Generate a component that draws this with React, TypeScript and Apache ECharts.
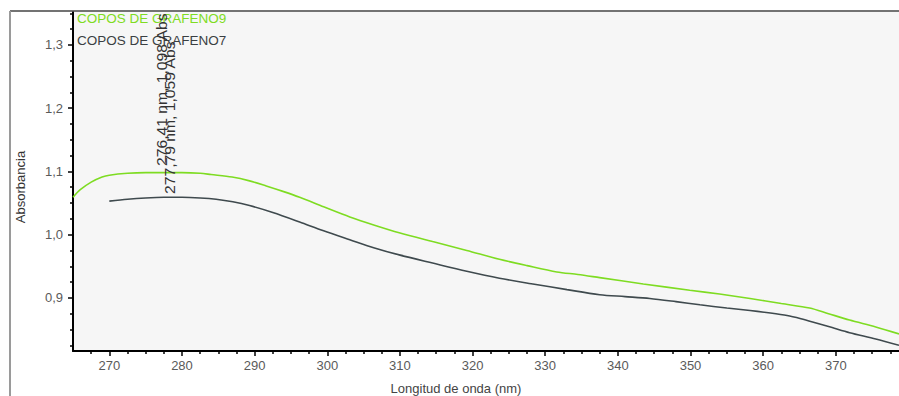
import React, { useEffect, useRef } from "react";
import * as echarts from "echarts";

const seriesNames = ["COPOS DE GRAFENO9", "COPOS DE GRAFENO7"];
const seriesColors = ["#7edc22", "#3f4a4e"];

const greenNm = [265, 266, 267.5, 269, 270, 272.5, 275, 277.5, 280, 282.5, 284, 286.9, 289.3, 291.6, 294, 296.2, 299.5, 303.1, 306.5, 309.9, 314.5, 319.2, 323.7, 327.5, 331.6, 334.5, 337.5, 343.5, 349.9, 354, 358.2, 362.5, 366.4, 369, 371.9, 375.5, 378.7];
const greenAbs = [1.059, 1.071, 1.083, 1.091, 1.094, 1.097, 1.098, 1.098, 1.098, 1.097, 1.095, 1.091, 1.085, 1.077, 1.068, 1.059, 1.044, 1.028, 1.015, 1.003, 0.989, 0.975, 0.961, 0.951, 0.941, 0.937, 0.932, 0.922, 0.912, 0.906, 0.899, 0.891, 0.884, 0.875, 0.865, 0.854, 0.843];

const darkNm = [270, 272.5, 275, 277.5, 280, 282.5, 284.7, 287, 289.3, 292.5, 296.2, 299.5, 303.1, 306.5, 309.9, 314.5, 319.2, 323.7, 328.3, 333, 337.5, 341, 344.4, 348, 351.3, 355, 358.2, 361, 363.3, 365.2, 366.8, 369.5, 371.9, 375.5, 378.7];
const darkAbs = [1.053, 1.056, 1.058, 1.059, 1.059, 1.058, 1.056, 1.052, 1.046, 1.035, 1.02, 1.006, 0.992, 0.979, 0.968, 0.955, 0.942, 0.931, 0.922, 0.913, 0.905, 0.902, 0.899, 0.894, 0.889, 0.884, 0.88, 0.876, 0.872, 0.867, 0.862, 0.853, 0.845, 0.835, 0.825];

const xMajor = [270, 280, 290, 300, 310, 320, 330, 340, 350, 360, 370];
const xMinor = [267.5, 272.5, 275, 277.5, 282.5, 285, 287.5, 292.5, 295, 297.5, 302.5, 305, 307.5, 312.5, 315, 317.5, 322.5, 325, 327.5, 332.5, 335, 337.5, 342.5, 345, 347.5, 352.5, 355, 357.5, 362.5, 365, 367.5, 372.5, 375, 377.5];
const yMajor = [0.9, 1.0, 1.1, 1.2, 1.3];
const yMinor = [0.825, 0.85, 0.875, 0.925, 0.95, 0.975, 1.025, 1.05, 1.075, 1.125, 1.15, 1.175, 1.225, 1.25, 1.275, 1.325, 1.35];

const peakLabels = ["276,41 nm, 1,098 Abs", "277,79 nm, 1,059 Abs"];

const X_MIN = 265;
const X_MAX = 378.7;
const Y_MIN = 0.816;
const Y_MAX = 1.352;

const FONT = "Liberation Sans, Arial, sans-serif";

export default function App() {
  const ref = useRef<HTMLDivElement>(null);

  useEffect(() => {
    if (!ref.current) return;
    const chart = echarts.init(ref.current, undefined, { renderer: "svg" });
    const pairs = (xs: number[], ys: number[]) => xs.map((x, i) => [x, ys[i]]);
    const fmt = (v: number) => v.toFixed(1).replace(".", ",");

    chart.setOption({
      animation: false,
      backgroundColor: "#ffffff",
      grid: {
        left: 73,
        top: 12,
        right: 0,
        bottom: 45,
        show: true,
        backgroundColor: "#f6f6f6",
        borderWidth: 0,
      },
      xAxis: [
        {
          type: "value",
          min: X_MIN,
          max: X_MAX,
          position: "bottom",
          axisLine: { show: true, onZero: false, lineStyle: { color: "#000", width: 2 } },
          axisTick: { show: true, customValues: xMajor, length: 5, lineStyle: { color: "#000", width: 1.5 } },
          axisLabel: { customValues: xMajor, color: "#5a5a5a", fontSize: 13, margin: 8, fontFamily: FONT },
          splitLine: { show: false },
        },
        {
          type: "value",
          min: X_MIN,
          max: X_MAX,
          position: "bottom",
          axisLine: { show: false },
          axisTick: { show: true, customValues: xMinor, length: 3, lineStyle: { color: "#000", width: 1.5 } },
          axisLabel: { show: false },
          splitLine: { show: false },
        },
      ],
      yAxis: [
        {
          type: "value",
          min: Y_MIN,
          max: Y_MAX,
          position: "left",
          axisLine: { show: true, onZero: false, lineStyle: { color: "#000", width: 2 } },
          axisTick: { show: true, customValues: yMajor, length: 5, lineStyle: { color: "#000", width: 1.5 } },
          axisLabel: {
            customValues: yMajor,
            color: "#5a5a5a",
            fontSize: 13,
            margin: 10,
            fontFamily: FONT,
            formatter: (v: number) => fmt(v),
          },
          splitLine: { show: false },
        },
        {
          type: "value",
          min: Y_MIN,
          max: Y_MAX,
          position: "left",
          axisLine: { show: false },
          axisTick: { show: true, customValues: yMinor, length: 3, lineStyle: { color: "#000", width: 1.5 } },
          axisLabel: { show: false },
          splitLine: { show: false },
        },
      ],
      series: [
        {
          name: seriesNames[0],
          type: "line",
          data: pairs(greenNm, greenAbs),
          showSymbol: false,
          smooth: 0.3,
          lineStyle: { color: seriesColors[0], width: 1.6 },
          itemStyle: { color: seriesColors[0] },
          z: 3,
        },
        {
          name: seriesNames[1],
          type: "line",
          data: pairs(darkNm, darkAbs),
          showSymbol: false,
          smooth: 0.3,
          lineStyle: { color: seriesColors[1], width: 1.6 },
          itemStyle: { color: seriesColors[1] },
          z: 3,
        },
      ],
      graphic: [
        { type: "line", shape: { x1: 10, y1: 11, x2: 899, y2: 11 }, style: { stroke: "#444", lineWidth: 1.5 }, z: 10 },
        { type: "line", shape: { x1: 10, y1: 11, x2: 10, y2: 396 }, style: { stroke: "#9a9a9a", lineWidth: 2 }, z: 10 },
        {
          type: "text",
          x: 77,
          y: 18,
          style: { text: seriesNames[0], fill: seriesColors[0], font: `13.5px ${FONT}`, align: "left", verticalAlign: "middle" },
          z: 10,
        },
        {
          type: "text",
          x: 77,
          y: 40,
          style: { text: seriesNames[1], fill: "#3a3f42", font: `13.5px ${FONT}`, align: "left", verticalAlign: "middle" },
          z: 10,
        },
        {
          type: "text",
          x: 162,
          y: 166,
          rotation: Math.PI / 2,
          scaleX: 1.12,
          style: { text: peakLabels[0], fill: "#333", font: `14px ${FONT}`, align: "left", verticalAlign: "middle" },
          z: 11,
        },
        {
          type: "text",
          x: 170,
          y: 194,
          rotation: Math.PI / 2,
          scaleX: 1.12,
          style: { text: peakLabels[1], fill: "#333", font: `14px ${FONT}`, align: "left", verticalAlign: "middle" },
          z: 11,
        },
        {
          type: "text",
          x: 20,
          y: 187,
          rotation: Math.PI / 2,
          style: { text: "Absorbancia", fill: "#333", font: `13px ${FONT}`, align: "center", verticalAlign: "middle" },
          z: 10,
        },
        {
          type: "text",
          x: 456,
          y: 388,
          style: { text: "Longitud de onda (nm)", fill: "#444", font: `13px ${FONT}`, align: "center", verticalAlign: "middle" },
          z: 10,
        },
      ],
    });

    return () => chart.dispose();
  }, []);

  return (
    <div
      ref={ref}
      style={{ position: "fixed", left: 0, top: 0, width: 899, height: 396 }}
    />
  );
}
